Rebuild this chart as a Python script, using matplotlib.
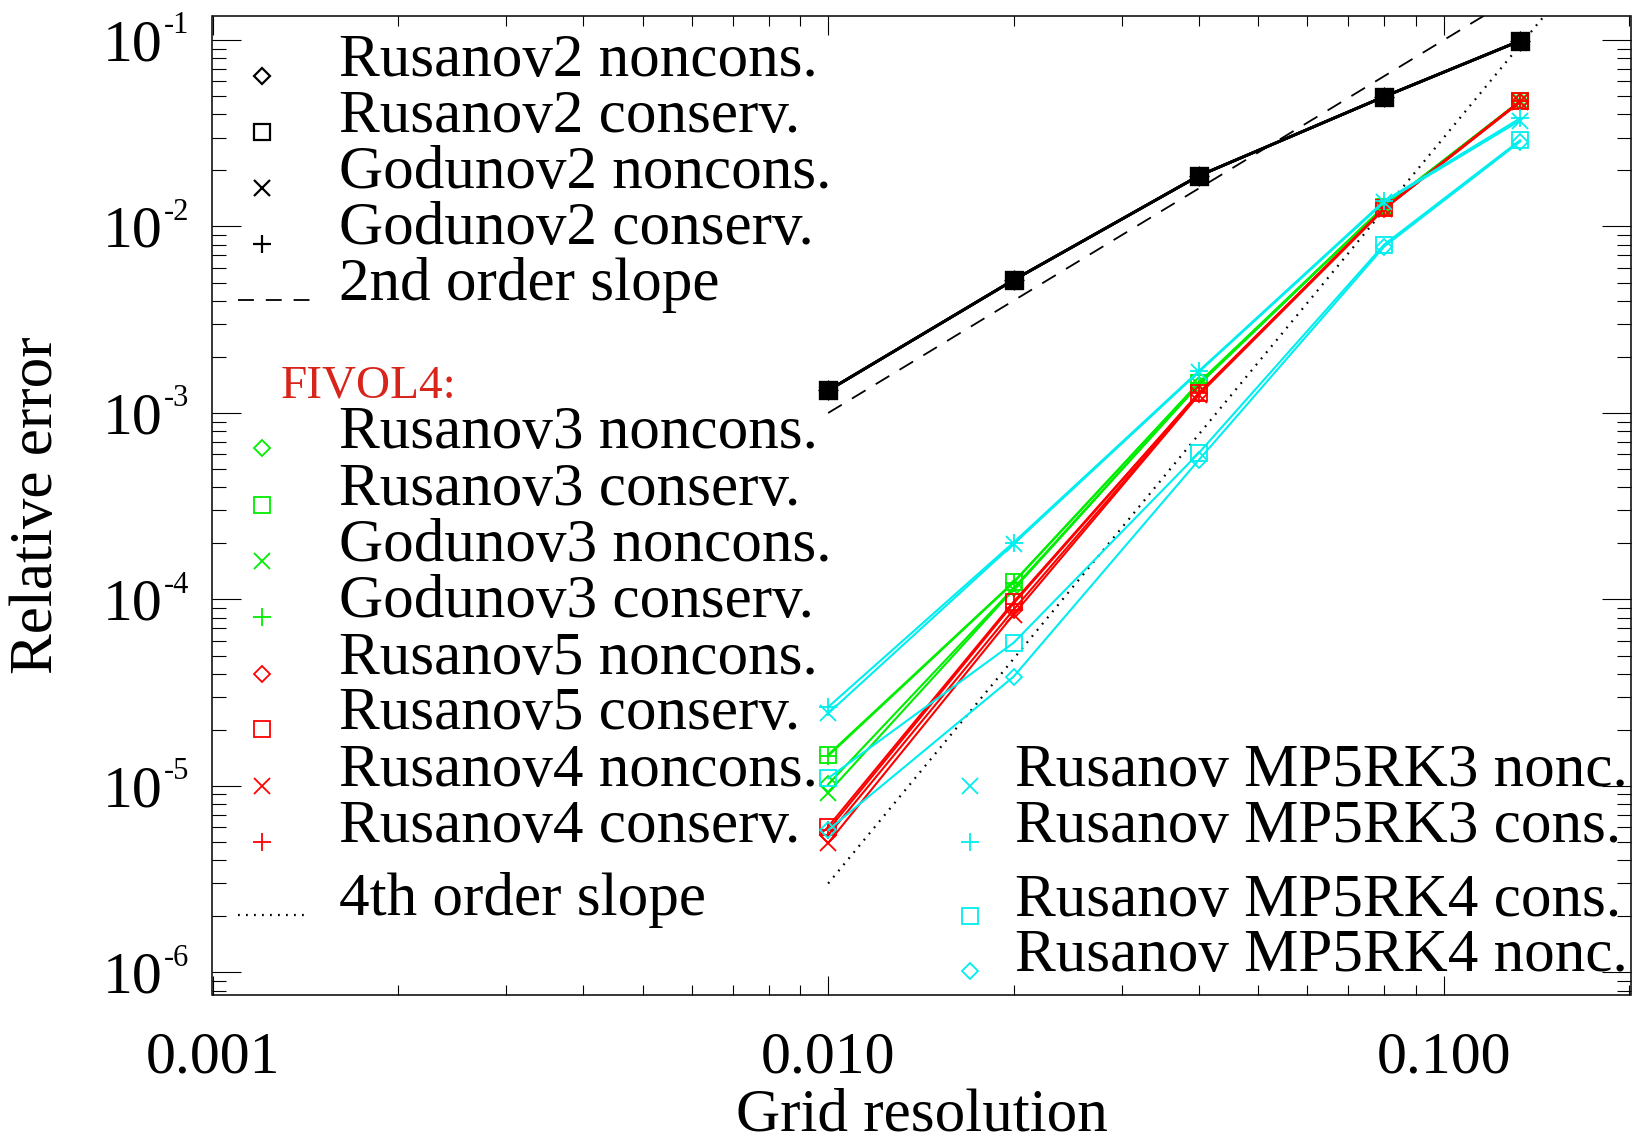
import matplotlib
matplotlib.use("Agg")
import matplotlib.pyplot as plt
import matplotlib.transforms as mtransforms

plt.rcParams['font.family'] = ['Liberation Serif', 'DejaVu Serif']

# ---- data -------------------------------------------------------------
grid = [0.01, 0.02, 0.04, 0.08, 0.133]

# second-order schemes (black)
rusanov2_noncons = [1.32e-3, 5.16e-3, 1.87e-2, 4.97e-2, 9.9e-2]
rusanov2_conserv = [1.32e-3, 5.16e-3, 1.87e-2, 4.97e-2, 9.9e-2]
godunov2_noncons = [1.32e-3, 5.16e-3, 1.87e-2, 4.97e-2, 9.9e-2]
godunov2_conserv = [1.32e-3, 5.16e-3, 1.87e-2, 4.97e-2, 9.9e-2]

# FIVOL4, third order (green)
rusanov3_noncons = [1.02e-5, 1.15e-4, 1.42e-3, 1.28e-2, 4.7e-2]
rusanov3_conserv = [1.47e-5, 1.24e-4, 1.45e-3, 1.28e-2, 4.7e-2]
godunov3_noncons = [9.2e-6, 1.13e-4, 1.42e-3, 1.28e-2, 4.7e-2]
godunov3_conserv = [1.45e-5, 1.23e-4, 1.45e-3, 1.28e-2, 4.7e-2]

# FIVOL4, fifth/fourth order (red)
rusanov5_noncons = [5.45e-6, 8.8e-5, 1.26e-3, 1.24e-2, 4.65e-2]
rusanov5_conserv = [6.05e-6, 9.7e-5, 1.28e-3, 1.25e-2, 4.7e-2]
rusanov4_noncons = [4.95e-6, 8.3e-5, 1.25e-3, 1.24e-2, 4.65e-2]
rusanov4_conserv = [5.8e-6, 9.5e-5, 1.28e-3, 1.25e-2, 4.7e-2]

# MP5 schemes (cyan)
mp5rk3_nonc = [2.45e-5, 1.98e-4, 1.66e-3, 1.35e-2, 3.7e-2]
mp5rk3_cons = [2.65e-5, 2.02e-4, 1.68e-3, 1.37e-2, 3.8e-2]
mp5rk4_cons = [1.1e-5, 5.85e-5, 6.1e-4, 8.0e-3, 2.9e-2]
mp5rk4_nonc = [5.8e-6, 3.85e-5, 5.6e-4, 7.8e-3, 2.85e-2]

# reference slopes (end points)
slope_x = [0.01, 0.2]
slope2_y = [1.0e-3, 4.0e-1]
slope4_y = [3.0e-6, 4.8e-1]

x_ticks = [0.001, 0.01, 0.1]
x_ticklabels = ['0.001', '0.010', '0.100']
y_exponents = [-6, -5, -4, -3, -2, -1]

# ---- figure -----------------------------------------------------------
W, H = 1637, 1143
fig = plt.figure(figsize=(W / 100, H / 100), dpi=100)
L, R, T, B = 212.5, 1630.5, 16.0, 995.0
ax = fig.add_axes([L / W, 1 - B / H, (R - L) / W, (B - T) / H])
ax.set_xscale('log')
ax.set_yscale('log')
ax.set_xlim(0.001, 0.201)
ax.set_ylim(7.57e-7, 0.1345)

BLACK, GREEN, RED, CYAN = 'black', '#00ee00', '#ff0000', '#00eeee'
FS = 44

series = [
    (rusanov2_noncons, BLACK, 'D', "Rusanov2 noncons."),
    (rusanov2_conserv, BLACK, 's', "Rusanov2 conserv."),
    (godunov2_noncons, BLACK, 'x', "Godunov2 noncons."),
    (godunov2_conserv, BLACK, '+', "Godunov2 conserv."),
    (rusanov3_noncons, GREEN, 'D', "Rusanov3 noncons."),
    (rusanov3_conserv, GREEN, 's', "Rusanov3 conserv."),
    (godunov3_noncons, GREEN, 'x', "Godunov3 noncons."),
    (godunov3_conserv, GREEN, '+', "Godunov3 conserv."),
    (rusanov5_noncons, RED, 'D', "Rusanov5 noncons."),
    (rusanov5_conserv, RED, 's', "Rusanov5 conserv."),
    (rusanov4_noncons, RED, 'x', "Rusanov4 noncons."),
    (rusanov4_conserv, RED, '+', "Rusanov4 conserv."),
    (mp5rk3_nonc, CYAN, 'x', "Rusanov MP5RK3 nonc."),
    (mp5rk3_cons, CYAN, '+', "Rusanov MP5RK3 cons."),
    (mp5rk4_cons, CYAN, 's', "Rusanov MP5RK4 cons."),
    (mp5rk4_nonc, CYAN, 'D', "Rusanov MP5RK4 nonc."),
]

MS = {'D': 8.5, 's': 12, 'x': 12, '+': 13}

# reference slopes
ax.plot(slope_x, slope2_y, color='black', lw=1.3,
        linestyle=(0, (8.8, 6.6)))
ax.plot(slope_x, slope4_y, color='black', lw=1.6,
        linestyle=(0, (0.8, 2.8)))

for ys, col, mk, lab in series:
    heavy = col == BLACK
    ax.plot(grid, ys, color=col, lw=2.0 if heavy else 1.5, marker=mk,
            ms=MS[mk], mew=2.4 if heavy else 1.3, mfc='none', mec=col)

# ---- axes styling -----------------------------------------------------
for sp in ax.spines.values():
    sp.set_linewidth(1.1)
ax.tick_params(which='both', direction='in', top=True, right=True,
               width=0.8, color='black')
ax.tick_params(axis='y', which='major', length=20.9)
ax.tick_params(axis='y', which='minor', length=10.0)
ax.tick_params(axis='x', which='major', length=13.7, pad=26,
               labelsize=43)
ax.tick_params(axis='x', which='minor', length=7.2)
ax.set_xticks(x_ticks)
ax.set_xticklabels(x_ticklabels)
ax.xaxis.set_minor_formatter(plt.NullFormatter())
ax.set_yticks([10.0 ** k for k in y_exponents])
ax.set_yticklabels([])
ax.yaxis.set_minor_formatter(plt.NullFormatter())

# y tick labels: "10" with a raised exponent
blend = mtransforms.blended_transform_factory(ax.transAxes, ax.transData)
base_tr = mtransforms.offset_copy(blend, fig=fig, x=-36, y=-14.5, units='points')
sup_tr = mtransforms.offset_copy(blend, fig=fig, x=-35, y=5, units='points')
for k in y_exponents:
    ax.text(0, 10.0 ** k, '10', transform=base_tr, ha='right',
            va='baseline', fontsize=43, clip_on=False)
    ax.text(0, 10.0 ** k, '-%d' % -k, transform=sup_tr, ha='left',
            va='baseline', fontsize=22, clip_on=False)

ax.set_xlabel('Grid resolution', fontsize=FS)
ax.xaxis.set_label_coords(0.5, -(1088 - B) / (B - T))
ax.set_ylabel('Relative error', fontsize=FS, va='center')
ax.yaxis.set_label_coords(-(L - 37) / (R - L), 0.5)

# ---- legend blocks ----------------------------------------------------
def fx(px):
    return px / W


def fy(py):
    return 1 - py / H


def key_marker(px, py, col, mk):
    mew = 1.6 if col == BLACK else 1.3
    ax.plot([fx(px)], [fy(py)], transform=fig.transFigure, clip_on=False,
            ls='none', marker=mk, ms=MS[mk], mew=mew, mfc='none', mec=col)


def key_text(px, py, s, color='black', size=FS):
    fig.text(fx(px), fy(py), s, ha='left', va='baseline', fontsize=size,
             color=color)


left_rows = [76, 132, 188, 244]
for (ys, col, mk, lab), py in zip(series[0:4], left_rows):
    key_marker(262, py, col, mk)
    key_text(339, py, lab)
ax.plot([fx(238), fx(310)], [fy(300), fy(300)], transform=fig.transFigure,
        clip_on=False, color='black', lw=1.3, linestyle=(0, (8.8, 6.6)))
key_text(339, 300, '2nd order slope')

key_text(281, 397, 'FIVOL4:', color='#d8251b', size=34)
mid_rows = [448, 505, 561, 617, 674, 729, 786, 842]
for (ys, col, mk, lab), py in zip(series[4:12], mid_rows):
    key_marker(262, py, col, mk)
    key_text(339, py, lab)
ax.plot([fx(238), fx(310)], [fy(915), fy(915)], transform=fig.transFigure,
        clip_on=False, color='black', lw=1.6, linestyle=(0, (0.8, 2.8)))
key_text(339, 915, '4th order slope')

right_rows = [786, 842, 916, 971]
for (ys, col, mk, lab), py in zip(series[12:16], right_rows):
    key_marker(970, py, col, mk)
    key_text(1015, py, lab)

fig.savefig('out.png', dpi=100)
